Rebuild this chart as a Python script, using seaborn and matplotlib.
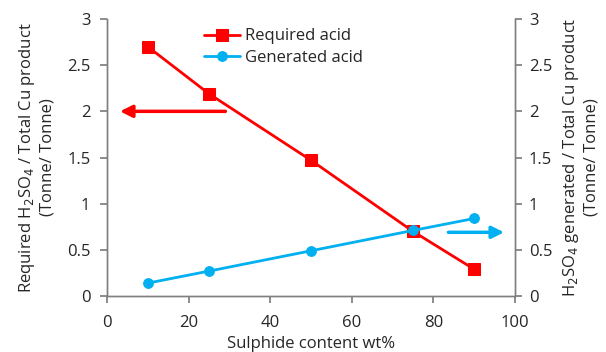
import matplotlib
matplotlib.use("Agg")
import matplotlib.pyplot as plt
import seaborn as sns
import pandas as pd

sulphide = [10, 25, 50, 75, 90]
required_acid = [2.70, 2.19, 1.47, 0.70, 0.29]
generated_acid = [0.14, 0.27, 0.49, 0.71, 0.84]

sns.set_theme(style="white")
plt.rcParams['font.family'] = ['Open Sans', 'DejaVu Sans']

df = pd.DataFrame({"x": sulphide, "req": required_acid, "gen": generated_acid})

fig = plt.figure(figsize=(6.06, 3.52), dpi=100)
ax = fig.add_axes([0.1766, 0.159, 0.6732, 0.787])
ax2 = ax.twinx()

red = "#FF0000"
blue = "#00B0F0"
sns.lineplot(data=df, x="x", y="req", ax=ax, color=red, marker="s", markersize=8,
             markeredgecolor=red, linewidth=2, label="Required acid", legend=False)
sns.lineplot(data=df, x="x", y="gen", ax=ax2, color=blue, marker="o", markersize=7,
             markeredgecolor=blue, linewidth=2, label="Generated acid", legend=False)

for a in (ax, ax2):
    a.set_ylim(0, 3)
    a.set_yticks([0, 0.5, 1, 1.5, 2, 2.5, 3])
    a.set_yticklabels(["0", "0.5", "1", "1.5", "2", "2.5", "3"])
    a.set_xlim(0, 100)
    for s in a.spines.values():
        s.set_color("#7f7f7f")
        s.set_linewidth(1)
    a.spines["top"].set_visible(False)
ax.set_xticks([0, 20, 40, 60, 80, 100])
ax.tick_params(axis="y", which="both", left=True, length=5, color="#7f7f7f", labelsize=12, pad=7)
ax.tick_params(axis="x", bottom=True, length=5, color="#7f7f7f", labelsize=12, pad=9)
ax2.tick_params(axis="y", right=True, length=5, color="#7f7f7f", labelsize=12, pad=5)

ax.set_xlabel("Sulphide content wt%", fontsize=12, labelpad=3)
ax.set_ylabel("Required H$_2$SO$_4$ / Total Cu product\n(Tonne/ Tonne)", fontsize=12, labelpad=8)
ax2.set_ylabel("H$_2$SO$_4$ generated / Total Cu product\n(Tonne/ Tonne)", fontsize=12, labelpad=6)

ax.annotate("", xy=(2.5, 2.0), xytext=(29.7, 2.0),
            arrowprops=dict(arrowstyle="-|>,head_length=0.6,head_width=0.3", color=red, lw=2.5))
ax2.annotate("", xy=(98, 0.69), xytext=(83, 0.69),
             arrowprops=dict(arrowstyle="-|>,head_length=0.6,head_width=0.3", color=blue, lw=2.5))

h1, l1 = ax.get_legend_handles_labels()
h2, l2 = ax2.get_legend_handles_labels()
ax2.legend(h1 + h2, l1 + l2, loc="upper left", bbox_to_anchor=(0.2, 1.02), frameon=False,
           fontsize=12, handlelength=2.2, handletextpad=0.3, labelspacing=0.35)

fig.savefig("out.png", dpi=100)
